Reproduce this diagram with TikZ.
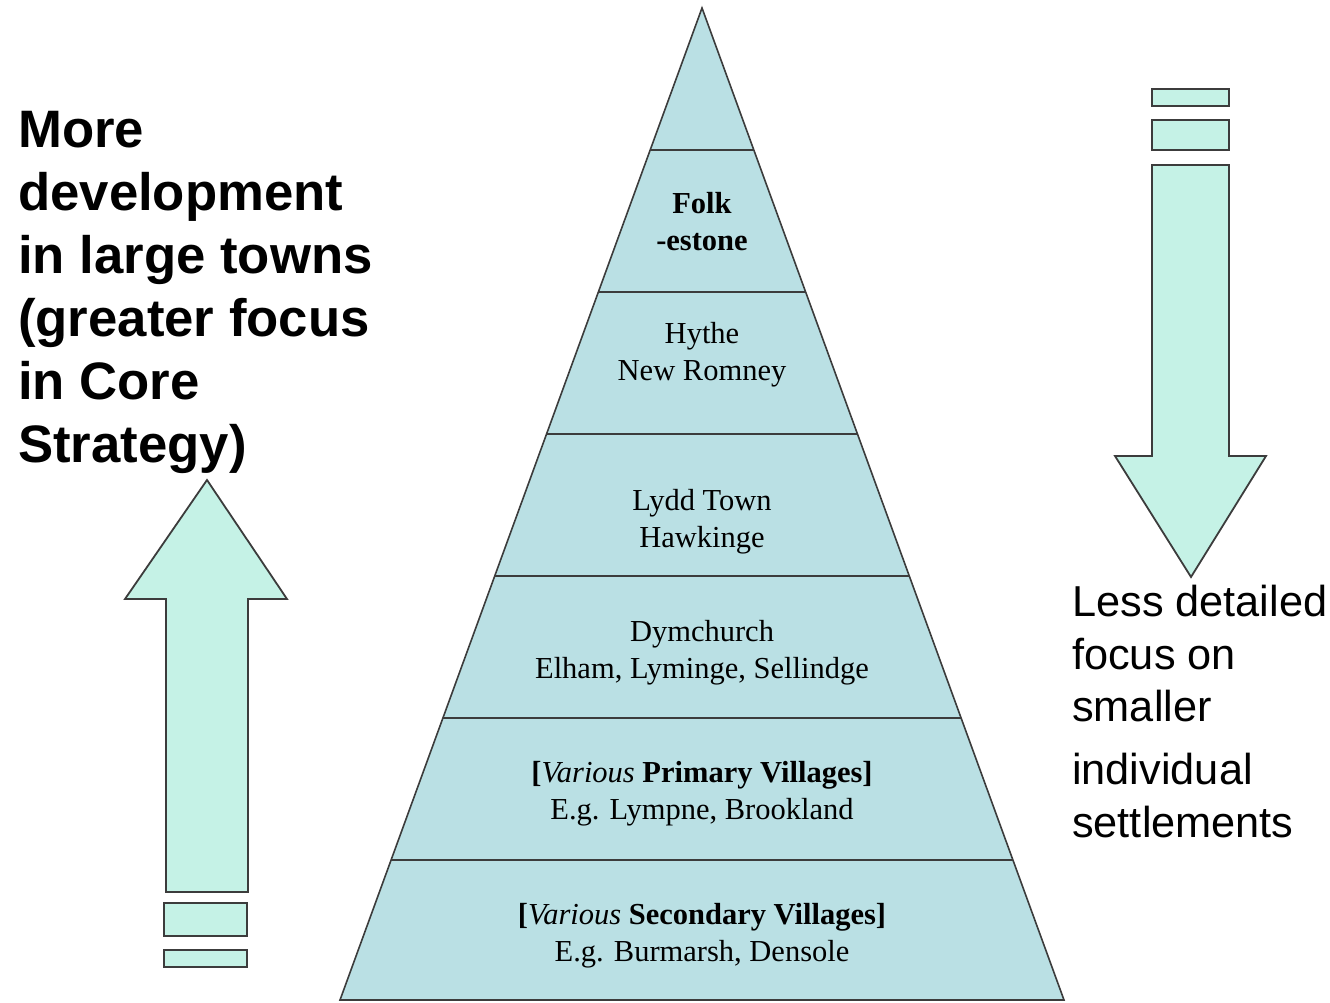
\documentclass[tikz,border=0pt]{standalone}
\usepackage{fontspec}
\setmainfont{Liberation Serif}
\newfontfamily\arialfont{Liberation Sans}
\usetikzlibrary{calc}
\definecolor{pyrfill}{HTML}{BAE0E4}
\definecolor{arrfill}{HTML}{C5F2E6}
\definecolor{edgegray}{HTML}{3C3C3C}
\tikzset{
  tier/.style={align=center,inner sep=0pt,anchor=base,font=\fontsize{30.5}{37}\selectfont},
  block/.style={fill=arrfill,draw=edgegray,line width=1.8pt,line join=miter},
  sidetext/.style={align=left,inner sep=0pt,anchor=base west}
}
\begin{document}
\begin{tikzpicture}[x=1pt,y=-1pt]
  \useasboundingbox (0,0) rectangle (1330,1003);

  % pyramid
  \coordinate (apex) at (702,8);
  \coordinate (bl) at (340,1000);
  \coordinate (br) at (1064,1000);
  \draw[fill=pyrfill,draw=edgegray,line width=1.6pt] (apex) -- (bl) -- (br) -- cycle;
  \foreach \y in {150,292,434,576,718,860}{
    \pgfmathsetmacro\t{(\y-8)/992}
    \draw[edgegray,line width=2.8pt] ($(apex)!\t!(bl)$) -- ($(apex)!\t!(br)$);
  }

  % labels sit on the baseline of their last line
  \node[tier] (folk) at (702,251) {\textbf{Folk}\\\textbf{-estone}};
  \node[tier] (hythe) at (702,380) {Hythe\\New Romney};
  \node[tier] (lydd) at (702,547) {Lydd Town\\Hawkinge};
  \node[tier] (dym) at (702,678) {Dymchurch\\Elham, Lyminge, Sellindge};
  \node[tier] (prim) at (702,819) {\textbf{[}\textit{Various} \textbf{Primary Villages]}\\E.g. Lympne, Brookland};
  \node[tier] (sec) at (702,961) {\textbf{[}\textit{Various} \textbf{Secondary Villages]}\\E.g. Burmarsh, Densole};

  % up arrow
  \draw[block] (166,892) -- (166,599) -- (125,599) -- (207,480) -- (287,599)
    -- (248,599) -- (248,892) -- cycle;
  \draw[block] (164,903) rectangle (247,936);
  \draw[block] (164,950) rectangle (247,967);

  % down arrow
  \draw[block] (1152,165) -- (1152,456) -- (1115,456) -- (1191,577) -- (1266,456)
    -- (1229,456) -- (1229,165) -- cycle;
  \draw[block] (1152,89) rectangle (1229,106);
  \draw[block] (1152,120) rectangle (1229,150);

  \node[sidetext,font=\arialfont\bfseries\fontsize{52.7}{63}\selectfont] (more) at (18,462)
    {More\\development\\in large towns\\(greater focus\\in Core\\Strategy)};
  \node[sidetext,font=\arialfont\fontsize{43.3}{52.5}\selectfont] (less) at (1072,837)
    {Less detailed\\focus on\\smaller\\[10.5pt]individual\\settlements};
\end{tikzpicture}
\end{document}
